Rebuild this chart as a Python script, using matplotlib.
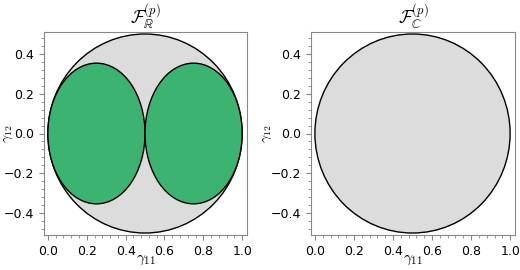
import matplotlib
matplotlib.use("Agg")
import matplotlib.pyplot as plt
from matplotlib.patches import Ellipse, Circle
from matplotlib.ticker import AutoMinorLocator

plt.rcParams['mathtext.fontset'] = 'cm'

# data
circle_center = (0.5, 0.0)
circle_radius = 0.5
ellipse_centers_x = [0.25, 0.75]
ellipse_center_y = 0.0
ellipse_width = 0.5
ellipse_height = 0.707
titles = [r'$\mathcal{F}_{\mathbb{R}}^{(p)}$', r'$\mathcal{F}_{\mathbb{C}}^{(p)}$']
xticks = [0.0, 0.2, 0.4, 0.6, 0.8, 1.0]
yticks = [-0.4, -0.2, 0.0, 0.2, 0.4]

gray = '#dcdcdc'
green = '#3cb371'

fig = plt.figure(figsize=(5.2, 2.7), dpi=100)
ax1 = fig.add_axes([44/520, 1-235/270, 203/520, 203/270])
ax2 = fig.add_axes([311/520, 1-235/270, 204/520, 203/270])
ylabel_x = [-0.145, -0.18]

for i, ax in enumerate([ax1, ax2]):
    ax.add_patch(Circle(circle_center, circle_radius, facecolor=gray, edgecolor='black', lw=1.0, zorder=1))
    if i == 0:
        for cx in ellipse_centers_x:
            ax.add_patch(Ellipse((cx, ellipse_center_y), ellipse_width, ellipse_height,
                                 facecolor=green, edgecolor='black', lw=1.0, zorder=2))
    ax.set_xlim(-0.02, 1.025)
    ax.set_ylim(-0.51, 0.51)
    ax.set_xticks(xticks)
    ax.set_yticks(yticks)
    ax.xaxis.set_minor_locator(AutoMinorLocator(5))
    ax.yaxis.set_minor_locator(AutoMinorLocator(5))
    ax.tick_params(labelsize=9, colors='black')
    ax.tick_params(which='both', color='#888888')
    for s in ax.spines.values():
        s.set_color('#888888')
    ax.set_xlabel(r'$\gamma_{11}$', fontsize=11)
    ax.set_ylabel(r'$\gamma_{12}$', fontsize=10)
    ax.xaxis.set_label_coords(0.5, -0.085)
    ax.yaxis.set_label_coords(ylabel_x[i], 0.5)
    ax.set_title(titles[i], fontsize=13, pad=3)

fig.savefig('out.png', dpi=100)
